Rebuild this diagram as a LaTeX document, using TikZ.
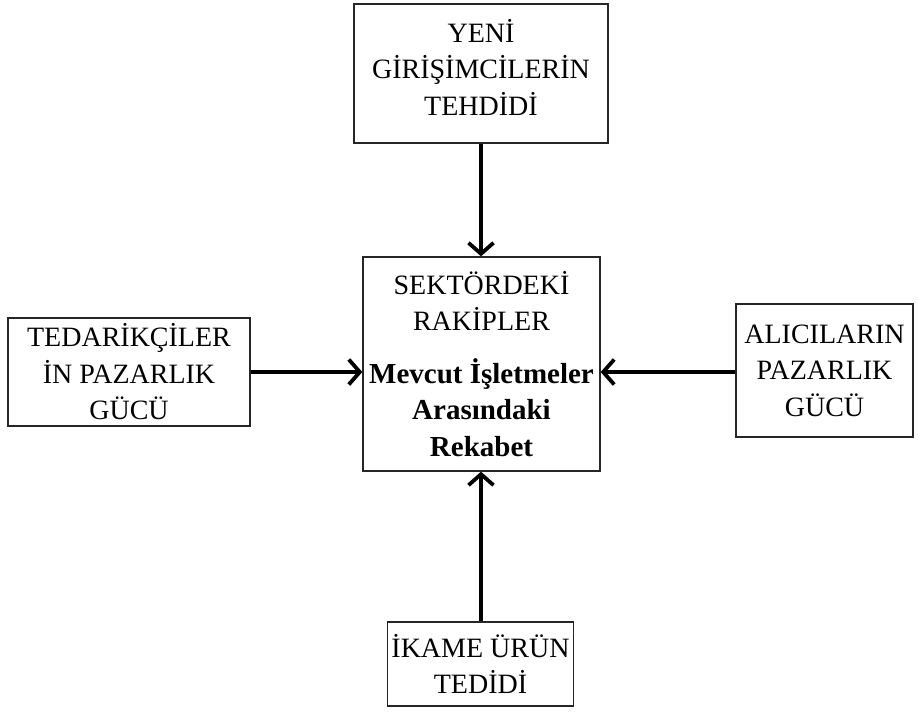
\documentclass[tikz,border=0pt]{standalone}
\usepackage{fontspec}
\setmainfont{Liberation Serif}
\usetikzlibrary{arrows.meta,calc}

\newcommand{\heavy}[1]{{\fontsize{29}{36.5}\selectfont\bfseries #1}}

\begin{document}
\begin{tikzpicture}[x=1pt,y=-1pt,
recnode/.style={rectangle, draw=black!85, line width=1.3pt, align=center, inner sep=0pt, font=\fontsize{28}{36.5}\selectfont},
forcearrow/.style={line width=3.8pt, -{Straight Barb[length=11pt,width=25pt]}},
]
\useasboundingbox (0,0) rectangle (918,715);
%Nodes
\node[recnode, minimum width=254pt, minimum height=139pt, text depth=13pt](new) at (481,73.5){YENİ\\GİRİŞİMCİLERİN\\TEHDİDİ};
\node[recnode, minimum width=237pt, minimum height=214pt](rival) at (481.5,364){SEKTÖRDEKİ\\RAKİPLER\\[16pt]\heavy{Mevcut İşletmeler}\\\heavy{Arasındaki}\\\heavy{Rekabet}};
\node[recnode, minimum width=242pt, minimum height=108pt](supplier) at (129,372){TEDARİKÇİLER\\İN PAZARLIK\\GÜCÜ};
\node[recnode, minimum width=177pt, minimum height=133pt](buyer) at (824.5,370.5){ALICILARIN\\PAZARLIK\\GÜCÜ};
\node[recnode, minimum width=186pt, minimum height=84pt](subst) at (480.5,664){İKAME ÜRÜN\\TEDİDİ};
%Arrows
\coordinate (vline) at (481,0);
\coordinate (hline) at (0,372);
\draw[forcearrow] (new.south -| vline) -- (rival.north -| vline);
\draw[forcearrow] (subst.north -| vline) -- (rival.south -| vline);
\draw[forcearrow] (supplier.east |- hline) -- (rival.west |- hline);
\draw[forcearrow] (buyer.west |- hline) -- (rival.east |- hline);
\end{tikzpicture}
\end{document}
